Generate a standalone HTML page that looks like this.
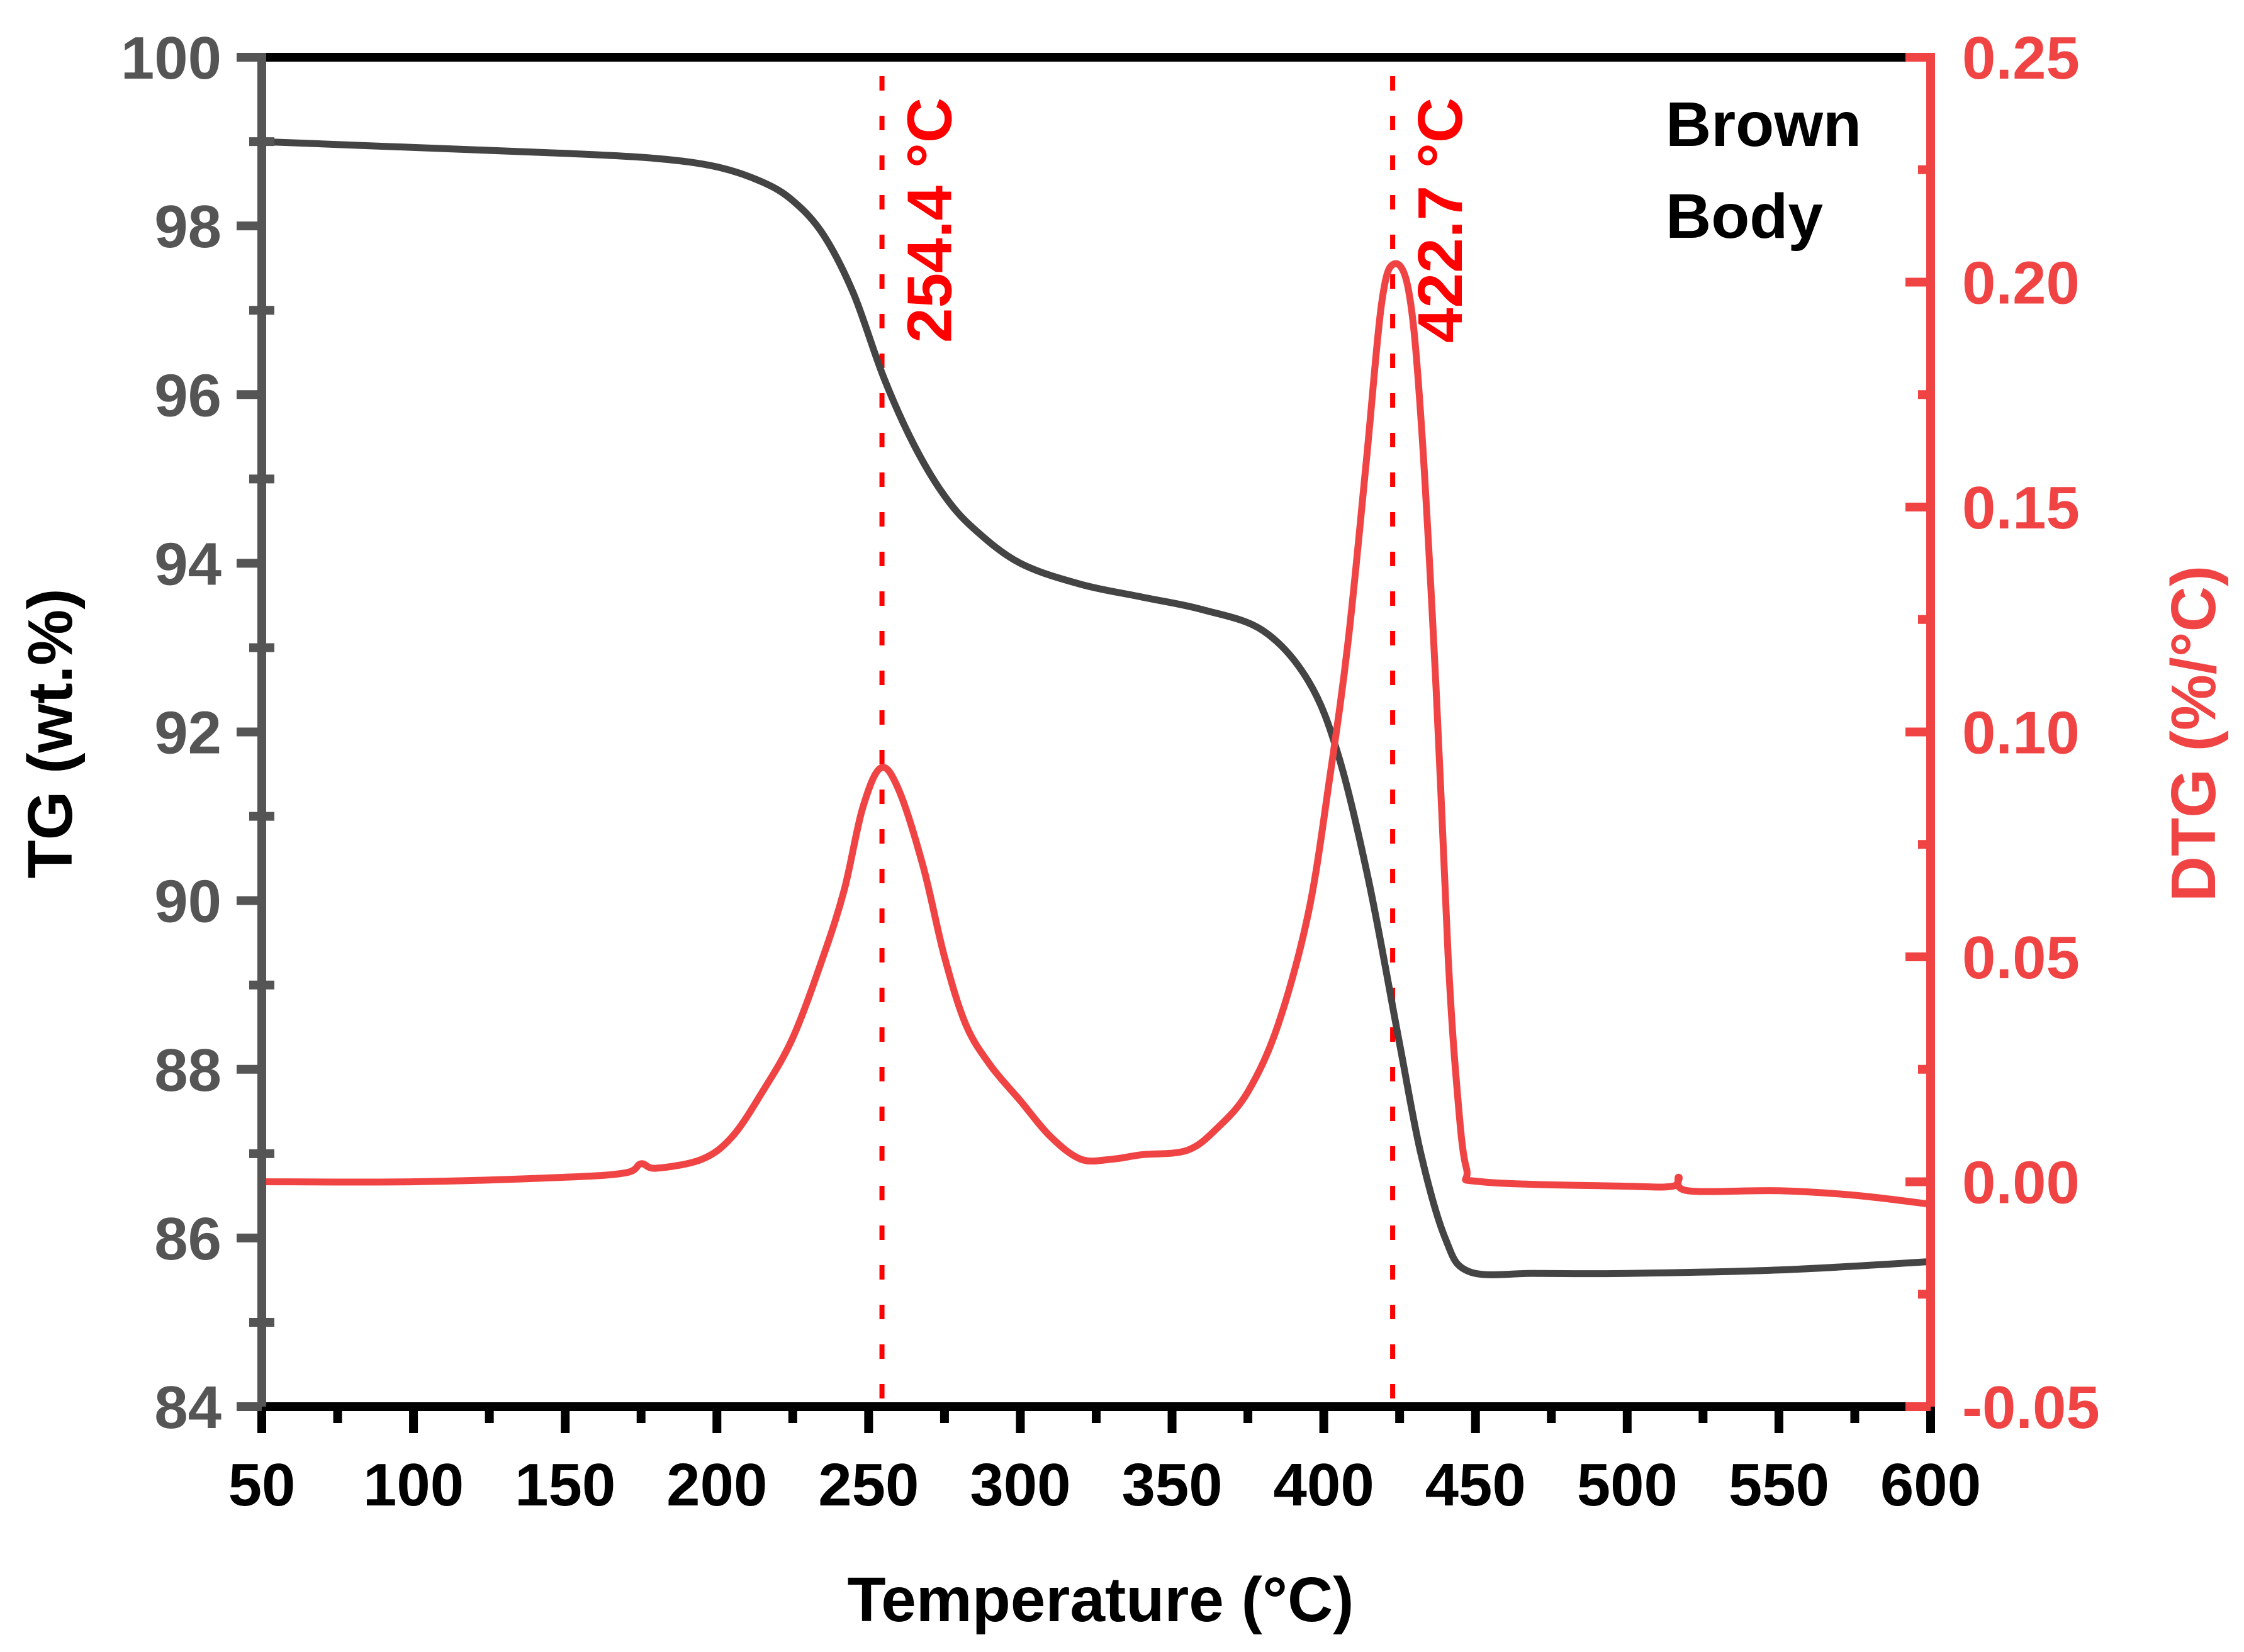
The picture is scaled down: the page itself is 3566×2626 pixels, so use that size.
<!DOCTYPE html>
<html><head><meta charset="utf-8"><style>
html,body{margin:0;padding:0;background:#fff;}
svg{display:block;}
text{font-family:"Liberation Sans",Arial,sans-serif;font-weight:bold;}
</style></head><body>
<svg id="chart" width="3566" height="2626" viewBox="0 0 3566 2626" xmlns="http://www.w3.org/2000/svg">
<g id="marks"></g>
<g id="axes"></g>
</svg>
<script>
const tgTemps = [50,100,150,180,200,215,225,235,245,255,265,275,285,300,320,340,360,380,395,405,415,425,432,440,448,470,500,550,600];
const tgValues = [99.0,98.93,98.86,98.8,98.7,98.52,98.3,97.9,97.2,96.2,95.4,94.8,94.4,94.0,93.75,93.6,93.45,93.2,92.6,91.7,90.2,88.3,87.0,86.0,85.6,85.58,85.58,85.62,85.72];
const dtgTemps = [50,100,150,170,175,180,195,205,215,225,235,242,248,254,260,268,275,282,290,300,310,320,330,340,355,365,375,385,395,402,408,414,419,423,428,432,437,441,444,447,452,500,515,517,520,550,575,600];
const dtgValues = [0.0,0.0,0.001,0.002,0.004,0.003,0.005,0.01,0.02,0.032,0.05,0.065,0.083,0.092,0.087,0.07,0.05,0.035,0.026,0.018,0.01,0.005,0.005,0.006,0.007,0.012,0.02,0.035,0.06,0.09,0.12,0.16,0.195,0.204,0.198,0.17,0.11,0.05,0.02,0.003,0.0,-0.001,-0.001,0.001,-0.002,-0.002,-0.003,-0.005];
const peakTemps = [254.4, 422.7];
const peakLabels = ["254.4 °C", "422.7 °C"];
const xTicks = [50,100,150,200,250,300,350,400,450,500,550,600];
const yTicks = [84,86,88,90,92,94,96,98,100];
const y2Ticks = [-0.05,0.00,0.05,0.10,0.15,0.20,0.25];
const y2TickLabels = ["-0.05","0.00","0.05","0.10","0.15","0.20","0.25"];

const L=416,R=3068,T=91,B=2236;
const xS=v=>L+(v-50)/550*(R-L);
const yS=v=>B-(v-84)/16*(B-T);
const y2S=v=>B-(v+0.05)/0.3*(B-T);
const NS="http://www.w3.org/2000/svg";
function mk(tag,attrs,parent,txt){const e=document.createElementNS(NS,tag);for(const k in attrs)e.setAttribute(k,attrs[k]);if(txt!==undefined)e.textContent=txt;parent.appendChild(e);return e;}
function smooth(pts){
  let d='M'+pts[0][0].toFixed(1)+' '+pts[0][1].toFixed(1);
  for(let i=0;i<pts.length-1;i++){
    const p0=pts[Math.max(0,i-1)],p1=pts[i],p2=pts[i+1],p3=pts[Math.min(pts.length-1,i+2)];
    const c1=[p1[0]+(p2[0]-p0[0])/6,p1[1]+(p2[1]-p0[1])/6];
    const c2=[p2[0]-(p3[0]-p1[0])/6,p2[1]-(p3[1]-p1[1])/6];
    d+=` C${c1[0].toFixed(1)} ${c1[1].toFixed(1)} ${c2[0].toFixed(1)} ${c2[1].toFixed(1)} ${p2[0].toFixed(1)} ${p2[1].toFixed(1)}`;
  }
  return d;
}
const marks=document.getElementById('marks'),axes=document.getElementById('axes');

peakTemps.forEach((t,i)=>{
  const l=mk('line',{x1:xS(t),x2:xS(t),y1:T+30,y2:B,stroke:'#ff0000','stroke-width':8,'stroke-dasharray':'23 40'},marks);
  
  
  const tx=xS(t)+110, ty=350;
  const lb=mk('text',{x:tx,y:ty,fill:'#ff0000','font-size':100,'text-anchor':'middle',transform:`rotate(-90 ${tx} ${ty})`},marks,peakLabels[i]);
  
  
});
const tg=mk('path',{d:smooth(tgTemps.map((t,i)=>[xS(t),yS(tgValues[i])])),fill:'none',stroke:'#444','stroke-width':11,'stroke-linejoin':'round'},marks);


const dtg=mk('path',{d:smooth(dtgTemps.map((t,i)=>[xS(t),y2S(dtgValues[i])])),fill:'none',stroke:'#f04444','stroke-width':11,'stroke-linejoin':'round'},marks);



mk('line',{x1:L,x2:R,y1:T,y2:T,stroke:'#000','stroke-width':14},axes);
mk('line',{x1:L,x2:R,y1:B,y2:B,stroke:'#000','stroke-width':14},axes);
const la=mk('line',{x1:L,x2:L,y1:T-7,y2:B+7,stroke:'#555','stroke-width':14},axes);


const ra=mk('line',{x1:R,x2:R,y1:T-7,y2:B+7,stroke:'#f04444','stroke-width':14},axes);



xTicks.forEach((v,i)=>{
  mk('line',{x1:xS(v),x2:xS(v),y1:B,y2:B+42,stroke:'#000','stroke-width':14},axes);
  if(i<xTicks.length-1) mk('line',{x1:xS(v+25),x2:xS(v+25),y1:B,y2:B+26,stroke:'#000','stroke-width':14},axes);
  const t=mk('text',{x:xS(v),y:2393,'font-size':96,'text-anchor':'middle',fill:'#000'},axes,String(v));
  
  
});
yTicks.forEach((v,i)=>{
  mk('line',{x1:L-40,x2:L,y1:yS(v),y2:yS(v),stroke:'#555','stroke-width':14},axes);
  if(i<yTicks.length-1) mk('line',{x1:L-20,x2:L+20,y1:yS(v+1),y2:yS(v+1),stroke:'#555','stroke-width':14},axes);
  const t=mk('text',{x:352,y:yS(v)+34,'font-size':96,'text-anchor':'end',fill:'#555'},axes,String(v));
  
  
});
y2Ticks.forEach((v,i)=>{
  mk('line',{x1:R-40,x2:R,y1:y2S(v),y2:y2S(v),stroke:'#f04444','stroke-width':14},axes);
  if(i<y2Ticks.length-1) mk('line',{x1:R-20,x2:R,y1:y2S(v+0.025),y2:y2S(v+0.025),stroke:'#f04444','stroke-width':14},axes);
  const t=mk('text',{x:3118,y:y2S(v)+34,'font-size':96,'text-anchor':'start',fill:'#f04444'},axes,y2TickLabels[i]);
  
  
});
</script>
<svg style="position:absolute;left:0;top:0" width="3566" height="2626">
<text x="1749" y="2577" font-size="100" text-anchor="middle" fill="#000">Temperature (°C)</text>
<text x="114" y="1166" font-size="100" text-anchor="middle" fill="#000" transform="rotate(-90 114 1166)">TG (wt.%)</text>
<text x="3520" y="1166" font-size="100" text-anchor="middle" fill="#f04444" transform="rotate(-90 3520 1166)">DTG (%/°C)</text>
<text font-size="100" fill="#000"><tspan x="2647" y="232">Brown</tspan><tspan x="2647" y="378">Body</tspan></text>
</svg>
</body></html>
